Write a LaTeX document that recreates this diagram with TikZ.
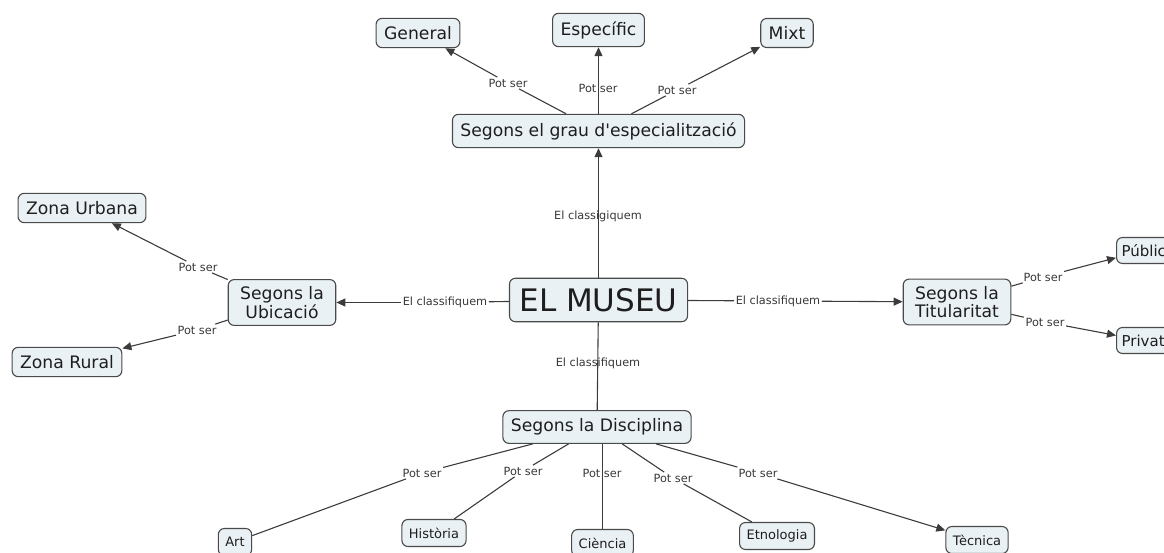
\documentclass[tikz,border=0pt]{standalone}
\usepackage{fontspec}
\setmainfont{DejaVu Sans}[Ligatures=TeXOff]
\usetikzlibrary{arrows.meta}
\definecolor{nodefill}{HTML}{EAF1F5}
\definecolor{nodeline}{HTML}{4A4A4A}
\definecolor{edgecol}{HTML}{3C3C3C}
\definecolor{txt}{HTML}{1E1E1E}
\definecolor{labtxt}{HTML}{383838}
\begin{document}
\begin{tikzpicture}[x=1pt,y=-1pt,
 concept/.style={draw=nodeline, fill=nodefill, line width=1.1pt, rounded corners=6pt, inner xsep=8pt, inner ysep=8pt, text=txt, font=\fontsize{17.2}{18.5}\selectfont, align=center},
 small/.style={concept, font=\fontsize{13}{15}\selectfont, inner ysep=0pt, minimum height=27pt, inner xsep=7pt},
 edge/.style={concept, font=\fontsize{15}{17}\selectfont, inner ysep=0pt, minimum height=26pt, inner xsep=5pt, anchor=west},
 big/.style={concept, font=\fontsize{31}{34}\selectfont, inner xsep=10pt, inner ysep=10pt},
 two/.style={concept, inner xsep=12pt, inner ysep=7pt},
 lab/.style={font=\fontsize{11.3}{13}\selectfont, text=labtxt, inner sep=1.5pt},
 link/.style={draw=edgecol, line width=1.1pt},
 arr/.style={link, -{Triangle[length=9pt,width=8pt]}}
]
\useasboundingbox (0,0) rectangle (1164,553);
\begin{scope}
\clip (0,0) rectangle (1164,553);
% concepts
\node[big] (museu) at (598.5,300) {EL MUSEU};
\node[concept] (grau) at (598.5,131) {Segons el grau d'especialització};
\node[concept] (general) at (418,33) {General};
\node[concept] (especific) at (598.5,30) {Específic};
\node[concept] (mixt) at (787,33) {Mixt};
\node[two] (ubic) at (282,302.5) {Segons la\\Ubicació};
\node[concept] (urbana) at (82,208) {Zona Urbana};
\node[concept] (rural) at (67,362) {Zona Rural};
\node[two] (titul) at (957,302) {Segons la\\Titularitat};
\node[edge] (public) at (1116,250.5) {Públic};
\node[edge] (privat) at (1116,340.5) {Privat};
\node[concept] (disc) at (597,427) {Segons la Disciplina};
\node[small] (art) at (235,542) {Art};
\node[small] (historia) at (434,533) {Història};
\node[small] (ciencia) at (602.5,543) {Ciència};
\node[small] (etno) at (777,536) {Etnologia};
\node[small] (tecnica) at (977,540) {Tècnica};
% link labels
\node[lab] (l1) at (598,216) {El classigiquem};
\node[lab] (l2) at (445,302.5) {El classifiquem};
\node[lab] (l3) at (778,301) {El classifiquem};
\node[lab] (l4) at (598,363) {El classifiquem};
\node[lab] (g1) at (508,83) {Pot ser};
\node[lab] (g2) at (598,88) {Pot ser};
\node[lab] (g3) at (677,90) {Pot ser};
\node[lab] (u1) at (198,267) {Pot ser};
\node[lab] (u2) at (197,330) {Pot ser};
\node[lab] (t1) at (1043,277) {Pot ser};
\node[lab] (t2) at (1045,322) {Pot ser};
\node[lab] (d1) at (422,473) {Pot ser};
\node[lab] (d2) at (523,471) {Pot ser};
\node[lab] (d3) at (602,473) {Pot ser};
\node[lab] (d4) at (673,478) {Pot ser};
\node[lab] (d5) at (758,473) {Pot ser};
% connectors
\draw[arr] (museu) -- (grau);
\draw[link] (museu) -- (disc);
\draw[link] (museu) -- (l2); \draw[arr] (l2) -- (ubic);
\draw[link] (museu) -- (l3); \draw[arr] (l3) -- (titul);
\draw[link] (grau) -- (g1); \draw[arr] (g1) -- (general);
\draw[arr] (grau) -- (especific);
\draw[link] (grau) -- (g3); \draw[arr] (g3) -- (mixt);
\draw[link] (ubic) -- (u1); \draw[arr] (u1) -- (urbana);
\draw[link] (ubic) -- (u2); \draw[arr] (u2) -- (rural);
\draw[link] (titul) -- (t1); \draw[arr] (t1) -- (public);
\draw[link] (titul) -- (t2); \draw[arr] (t2) -- (privat);
\draw[link] (disc) -- (d1); \draw[link] (d1) -- (art);
\draw[link] (disc) -- (d2); \draw[link] (d2) -- (historia);
\draw[link] (disc.south -| ciencia) -- (ciencia);
\draw[link] (disc) -- (d4); \draw[link] (d4) -- (etno);
\draw[link] (disc) -- (d5); \draw[arr] (d5) -- (tecnica);
\end{scope}
\end{tikzpicture}
\end{document}
